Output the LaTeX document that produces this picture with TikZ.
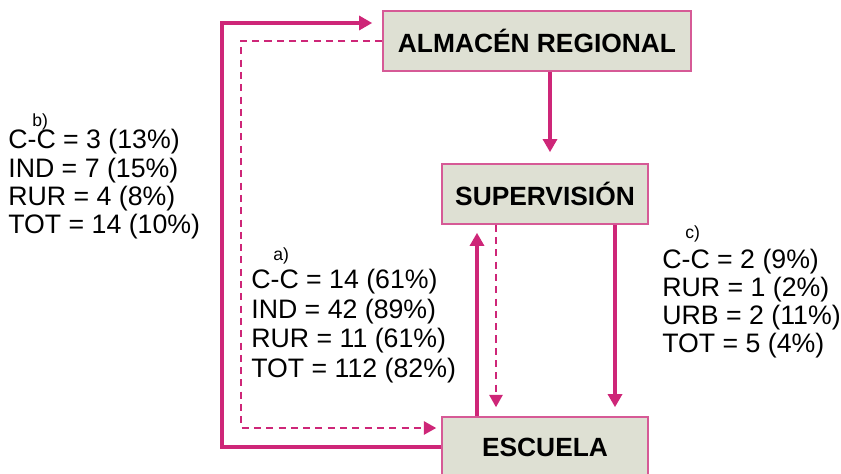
\documentclass[tikz,border=0pt]{standalone}
\usepackage{fontspec}
\setmainfont{Liberation Sans}
\usetikzlibrary{arrows.meta}
\definecolor{mag}{RGB}{206,38,120}
\definecolor{boxfill}{RGB}{222,224,211}
\definecolor{boxline}{RGB}{214,90,150}
\tikzset{
  box/.style={draw=boxline, line width=0.9pt, fill=boxfill, inner sep=0pt,
    font=\fontsize{15}{17}\selectfont\bfseries},
  txt/.style={anchor=base west, inner sep=0pt, font=\fontsize{15.2}{17}\selectfont},
  tag/.style={anchor=base west, inner sep=0pt, font=\fontsize{10}{11}\selectfont},
  solidarr/.style={draw=mag, line width=1.8pt, -{Triangle[length=7.5pt,width=8pt]}},
  dasharr/.style={draw=mag, line width=1.2pt, dash pattern=on 4pt off 3pt, -{Triangle[length=7pt,width=7.5pt]}},
}
\begin{document}
\begin{tikzpicture}[x=0.02cm, y=-0.02cm]
\clip (0,0) rectangle (841,473);
% boxes
\node[box, minimum width=308*0.02cm, minimum height=60*0.02cm] (alm) at (537,41) {ALMACÉN REGIONAL};
\node[box, minimum width=206*0.02cm, minimum height=60*0.02cm] (sup) at (545,194) {SUPERVISIÓN};
\node[box, minimum width=206*0.02cm, minimum height=60*0.02cm] (esc) at (545,447) {ESCUELA};
% connectors
\draw[solidarr, shorten >=11*0.02cm] (alm.south -| 550,0) -- (sup.north -| 550,0);
\draw[solidarr, shorten >=10*0.02cm] (esc.west |- 0,447) -- (222,447) -- (222,23) -- (alm.west |- 0,23);
\draw[dasharr, shorten >=5*0.02cm] (alm.west |- 0,41) -- (241,41) -- (241,428) -- (esc.west |- 0,428);
\draw[solidarr, shorten >=8*0.02cm] (esc.north -| 477,0) -- (sup.south -| 477,0);
\draw[dasharr, shorten >=9*0.02cm] (sup.south -| 496,0) -- (esc.north -| 496,0);
\draw[solidarr, shorten >=9*0.02cm] (sup.south -| 615,0) -- (esc.north -| 615,0);
% b)
\node[tag] (bt) at (32,126) {b)};
\node[txt] (b1) at (8,148) {C-C = 3 (13\%)};
\node[txt] (b2) at (8,177) {IND = 7 (15\%)};
\node[txt] (b3) at (8,205) {RUR = 4 (8\%)};
\node[txt] (b4) at (8,233) {TOT = 14 (10\%)};
% a)
\node[tag] (at) at (273,260) {a)};
\node[txt] (a1) at (251,288) {C-C = 14 (61\%)};
\node[txt] (a2) at (251,318) {IND = 42 (89\%)};
\node[txt] (a3) at (251,347) {RUR = 11 (61\%)};
\node[txt] (a4) at (251,377) {TOT = 112 (82\%)};
% c)
\node[tag] (ct) at (685,238) {c)};
\node[txt] (c1) at (662,268) {C-C = 2 (9\%)};
\node[txt] (c2) at (662,296) {RUR = 1 (2\%)};
\node[txt] (c3) at (662,324) {URB = 2 (11\%)};
\node[txt] (c4) at (662,352) {TOT = 5 (4\%)};
\end{tikzpicture}
\end{document}
